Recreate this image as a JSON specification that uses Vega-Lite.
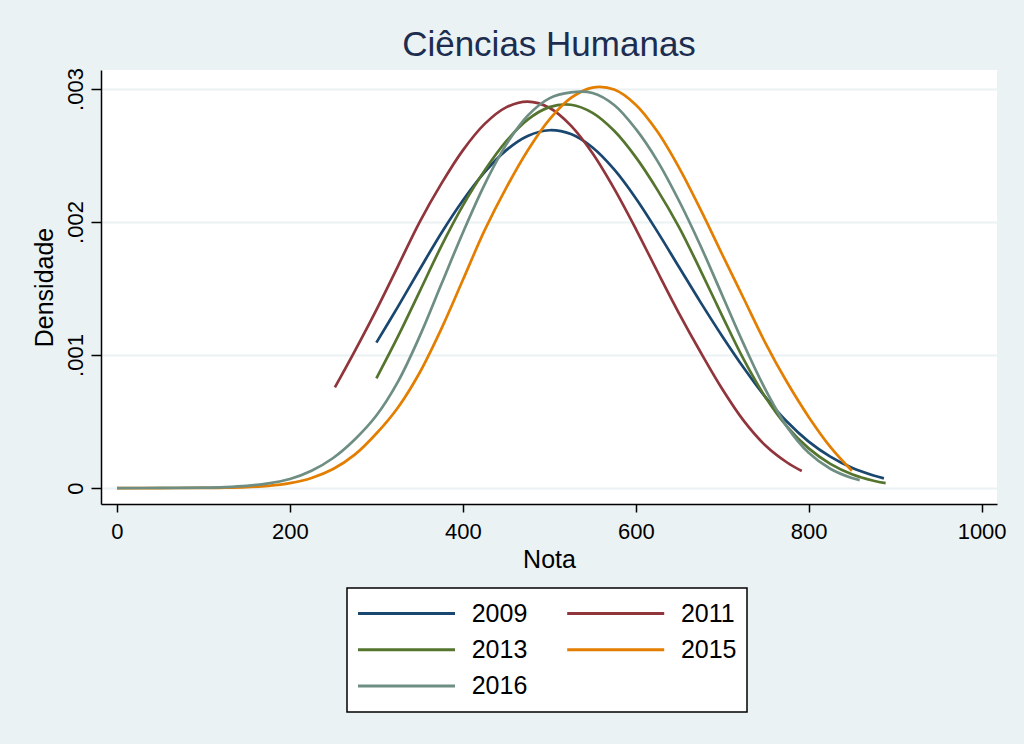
{
  "$schema": "https://vega.github.io/schema/vega-lite/v6.json",
  "width": 896,
  "height": 434,
  "autosize": {"type": "none"},
  "padding": {"left": 101, "top": 70, "right": 27, "bottom": 240},
  "background": "#EAF2F3",
  "config": {
    "font": "Liberation Sans",
    "view": {"fill": "white", "stroke": null},
    "legend": {"strokeWidth": 1.5}
  },
  "title": {
    "text": "Ciências Humanas",
    "font": "Liberation Sans",
    "fontSize": 35,
    "fontWeight": "normal",
    "color": "#1c2d50",
    "anchor": "middle",
    "frame": "group",
    "baseline": "alphabetic",
    "offset": -23
  },
  "data": {
    "values": [
      {"ano": "2009", "nota": 300, "dens": 0.001093},
      {"ano": "2009", "nota": 325, "dens": 0.001364},
      {"ano": "2009", "nota": 350, "dens": 0.001643},
      {"ano": "2009", "nota": 375, "dens": 0.001916},
      {"ano": "2009", "nota": 400, "dens": 0.002162},
      {"ano": "2009", "nota": 425, "dens": 0.002373},
      {"ano": "2009", "nota": 450, "dens": 0.002539},
      {"ano": "2009", "nota": 475, "dens": 0.002647},
      {"ano": "2009", "nota": 500, "dens": 0.00269},
      {"ano": "2009", "nota": 525, "dens": 0.002661},
      {"ano": "2009", "nota": 550, "dens": 0.00256},
      {"ano": "2009", "nota": 575, "dens": 0.002395},
      {"ano": "2009", "nota": 600, "dens": 0.002179},
      {"ano": "2009", "nota": 625, "dens": 0.001928},
      {"ano": "2009", "nota": 650, "dens": 0.001662},
      {"ano": "2009", "nota": 675, "dens": 0.001396},
      {"ano": "2009", "nota": 700, "dens": 0.001142},
      {"ano": "2009", "nota": 725, "dens": 0.000903},
      {"ano": "2009", "nota": 750, "dens": 0.000684},
      {"ano": "2009", "nota": 775, "dens": 0.000498},
      {"ano": "2009", "nota": 800, "dens": 0.000349},
      {"ano": "2009", "nota": 825, "dens": 0.000236},
      {"ano": "2009", "nota": 850, "dens": 0.000152},
      {"ano": "2009", "nota": 875, "dens": 0.0000943},
      {"ano": "2009", "nota": 887, "dens": 0.000073},

      {"ano": "2011", "nota": 252, "dens": 0.000757},
      {"ano": "2011", "nota": 275, "dens": 0.00103},
      {"ano": "2011", "nota": 300, "dens": 0.00134},
      {"ano": "2011", "nota": 325, "dens": 0.001669},
      {"ano": "2011", "nota": 350, "dens": 0.002},
      {"ano": "2011", "nota": 375, "dens": 0.002287},
      {"ano": "2011", "nota": 400, "dens": 0.002539},
      {"ano": "2011", "nota": 425, "dens": 0.002736},
      {"ano": "2011", "nota": 450, "dens": 0.002862},
      {"ano": "2011", "nota": 475, "dens": 0.002905},
      {"ano": "2011", "nota": 500, "dens": 0.002859},
      {"ano": "2011", "nota": 525, "dens": 0.002725},
      {"ano": "2011", "nota": 550, "dens": 0.002517},
      {"ano": "2011", "nota": 575, "dens": 0.002251},
      {"ano": "2011", "nota": 600, "dens": 0.001949},
      {"ano": "2011", "nota": 625, "dens": 0.001628},
      {"ano": "2011", "nota": 650, "dens": 0.001314},
      {"ano": "2011", "nota": 675, "dens": 0.001021},
      {"ano": "2011", "nota": 700, "dens": 0.000745},
      {"ano": "2011", "nota": 725, "dens": 0.000505},
      {"ano": "2011", "nota": 750, "dens": 0.00032},
      {"ano": "2011", "nota": 775, "dens": 0.000192},
      {"ano": "2011", "nota": 792, "dens": 0.000128},

      {"ano": "2013", "nota": 300, "dens": 0.000825},
      {"ano": "2013", "nota": 325, "dens": 0.00114},
      {"ano": "2013", "nota": 350, "dens": 0.001477},
      {"ano": "2013", "nota": 375, "dens": 0.001817},
      {"ano": "2013", "nota": 400, "dens": 0.002123},
      {"ano": "2013", "nota": 425, "dens": 0.002385},
      {"ano": "2013", "nota": 450, "dens": 0.002606},
      {"ano": "2013", "nota": 475, "dens": 0.00277},
      {"ano": "2013", "nota": 500, "dens": 0.002864},
      {"ano": "2013", "nota": 525, "dens": 0.002882},
      {"ano": "2013", "nota": 550, "dens": 0.002821},
      {"ano": "2013", "nota": 575, "dens": 0.002686},
      {"ano": "2013", "nota": 600, "dens": 0.002488},
      {"ano": "2013", "nota": 625, "dens": 0.002242},
      {"ano": "2013", "nota": 650, "dens": 0.001962},
      {"ano": "2013", "nota": 675, "dens": 0.001635},
      {"ano": "2013", "nota": 700, "dens": 0.001295},
      {"ano": "2013", "nota": 725, "dens": 0.000965},
      {"ano": "2013", "nota": 750, "dens": 0.000683},
      {"ano": "2013", "nota": 775, "dens": 0.000462},
      {"ano": "2013", "nota": 800, "dens": 0.000298},
      {"ano": "2013", "nota": 825, "dens": 0.000182},
      {"ano": "2013", "nota": 850, "dens": 0.000104},
      {"ano": "2013", "nota": 875, "dens": 0.0000548},
      {"ano": "2013", "nota": 889, "dens": 0.000037},

      {"ano": "2015", "nota": 0, "dens": 0},
      {"ano": "2015", "nota": 50, "dens": 0},
      {"ano": "2015", "nota": 100, "dens": 0.0000008},
      {"ano": "2015", "nota": 125, "dens": 0.0000024},
      {"ano": "2015", "nota": 150, "dens": 0.0000067},
      {"ano": "2015", "nota": 175, "dens": 0.0000165},
      {"ano": "2015", "nota": 200, "dens": 0.000037},
      {"ano": "2015", "nota": 225, "dens": 0.000076},
      {"ano": "2015", "nota": 250, "dens": 0.000143},
      {"ano": "2015", "nota": 275, "dens": 0.000251},
      {"ano": "2015", "nota": 300, "dens": 0.00041},
      {"ano": "2015", "nota": 325, "dens": 0.000606},
      {"ano": "2015", "nota": 350, "dens": 0.000867},
      {"ano": "2015", "nota": 375, "dens": 0.001195},
      {"ano": "2015", "nota": 400, "dens": 0.001564},
      {"ano": "2015", "nota": 425, "dens": 0.001935},
      {"ano": "2015", "nota": 450, "dens": 0.002255},
      {"ano": "2015", "nota": 475, "dens": 0.002538},
      {"ano": "2015", "nota": 500, "dens": 0.00277},
      {"ano": "2015", "nota": 525, "dens": 0.002933},
      {"ano": "2015", "nota": 550, "dens": 0.003011},
      {"ano": "2015", "nota": 575, "dens": 0.002996},
      {"ano": "2015", "nota": 600, "dens": 0.002882},
      {"ano": "2015", "nota": 625, "dens": 0.00268},
      {"ano": "2015", "nota": 650, "dens": 0.002409},
      {"ano": "2015", "nota": 675, "dens": 0.002093},
      {"ano": "2015", "nota": 700, "dens": 0.001756},
      {"ano": "2015", "nota": 725, "dens": 0.001423},
      {"ano": "2015", "nota": 750, "dens": 0.00109},
      {"ano": "2015", "nota": 775, "dens": 0.000795},
      {"ano": "2015", "nota": 800, "dens": 0.000535},
      {"ano": "2015", "nota": 825, "dens": 0.00031},
      {"ano": "2015", "nota": 850, "dens": 0.00013},

      {"ano": "2016", "nota": 0, "dens": 0},
      {"ano": "2016", "nota": 50, "dens": 0.0000005},
      {"ano": "2016", "nota": 100, "dens": 0.0000032},
      {"ano": "2016", "nota": 125, "dens": 0.0000075},
      {"ano": "2016", "nota": 150, "dens": 0.0000166},
      {"ano": "2016", "nota": 175, "dens": 0.0000349},
      {"ano": "2016", "nota": 200, "dens": 0.000068},
      {"ano": "2016", "nota": 225, "dens": 0.00013},
      {"ano": "2016", "nota": 250, "dens": 0.000226},
      {"ano": "2016", "nota": 275, "dens": 0.000365},
      {"ano": "2016", "nota": 300, "dens": 0.000545},
      {"ano": "2016", "nota": 325, "dens": 0.0008},
      {"ano": "2016", "nota": 350, "dens": 0.00114},
      {"ano": "2016", "nota": 375, "dens": 0.00153},
      {"ano": "2016", "nota": 400, "dens": 0.00192},
      {"ano": "2016", "nota": 425, "dens": 0.00228},
      {"ano": "2016", "nota": 450, "dens": 0.00258},
      {"ano": "2016", "nota": 475, "dens": 0.0028},
      {"ano": "2016", "nota": 500, "dens": 0.00293},
      {"ano": "2016", "nota": 525, "dens": 0.002975},
      {"ano": "2016", "nota": 550, "dens": 0.00297},
      {"ano": "2016", "nota": 575, "dens": 0.00288},
      {"ano": "2016", "nota": 600, "dens": 0.0027},
      {"ano": "2016", "nota": 625, "dens": 0.00246},
      {"ano": "2016", "nota": 650, "dens": 0.00216},
      {"ano": "2016", "nota": 675, "dens": 0.00182},
      {"ano": "2016", "nota": 700, "dens": 0.00145},
      {"ano": "2016", "nota": 725, "dens": 0.00108},
      {"ano": "2016", "nota": 750, "dens": 0.00074},
      {"ano": "2016", "nota": 775, "dens": 0.00046},
      {"ano": "2016", "nota": 800, "dens": 0.000265},
      {"ano": "2016", "nota": 825, "dens": 0.000145},
      {"ano": "2016", "nota": 850, "dens": 0.000075},
      {"ano": "2016", "nota": 859, "dens": 0.00006}
    ]
  },
  "mark": {"type": "line", "interpolate": "catmull-rom", "strokeWidth": 2.7},
  "encoding": {
    "x": {
      "field": "nota",
      "type": "quantitative",
      "scale": {"domain": [-18.5, 1017.8], "nice": false, "zero": false},
      "axis": {
        "title": "Nota",
        "values": [0, 200, 400, 600, 800, 1000],
        "format": "d",
        "grid": false,
        "domainColor": "black",
        "domainWidth": 1.5,
        "tickColor": "black",
        "tickWidth": 1.5,
        "tickSize": 8,
        "labelPadding": 9.5,
        "labelFontSize": 22,
        "labelColor": "black",
        "labelFlush": false,
        "labelFont": "Liberation Sans",
        "titleFont": "Liberation Sans",
        "titleFontSize": 25,
        "titleFontWeight": "normal",
        "titleColor": "black",
        "titleBaseline": "alphabetic",
        "titleY": 63
      }
    },
    "y": {
      "field": "dens",
      "type": "quantitative",
      "scale": {"domain": [-0.00012, 0.003143], "nice": false, "zero": false},
      "axis": {
        "title": "Densidade",
        "values": [0, 0.001, 0.002, 0.003],
        "labelExpr": "datum.value == 0 ? '0' : '.' + format(datum.value * 1000, '03d')",
        "grid": true,
        "gridColor": "#EAF2F3",
        "gridWidth": 2.2,
        "domainColor": "black",
        "domainWidth": 1.5,
        "tickColor": "black",
        "tickWidth": 1.5,
        "tickSize": 10,
        "labelPadding": 9,
        "labelAngle": 270,
        "labelAlign": "center",
        "labelBaseline": "alphabetic",
        "labelFontSize": 22,
        "labelColor": "black",
        "labelFlush": false,
        "labelFont": "Liberation Sans",
        "titleFont": "Liberation Sans",
        "titleFontSize": 25,
        "titleFontWeight": "normal",
        "titleColor": "black",
        "titleAngle": 270,
        "titleBaseline": "alphabetic",
        "titleX": -49,
        "titleY": 217
      }
    },
    "color": {
      "field": "ano",
      "type": "nominal",
      "scale": {
        "domain": ["2009", "2011", "2013", "2015", "2016"],
        "range": ["#1A476F", "#90353B", "#55752F", "#E37E00", "#6E8E84"]
      },
      "legend": {
        "title": null,
        "orient": "none",
        "direction": "horizontal",
        "legendX": 246,
        "legendY": 518,
        "columns": 2,
        "symbolType": "stroke",
        "symbolSize": 9409,
        "symbolStrokeWidth": 3,
        "labelFontSize": 25,
        "labelFont": "Liberation Sans",
        "labelColor": "black",
        "labelOffset": 15.2,
        "columnPadding": 38.2,
        "rowPadding": 4.4,
        "clipHeight": 31.6,
        "padding": 9.5,
        "fillColor": "white",
        "strokeColor": "black"
      }
    }
  }
}
